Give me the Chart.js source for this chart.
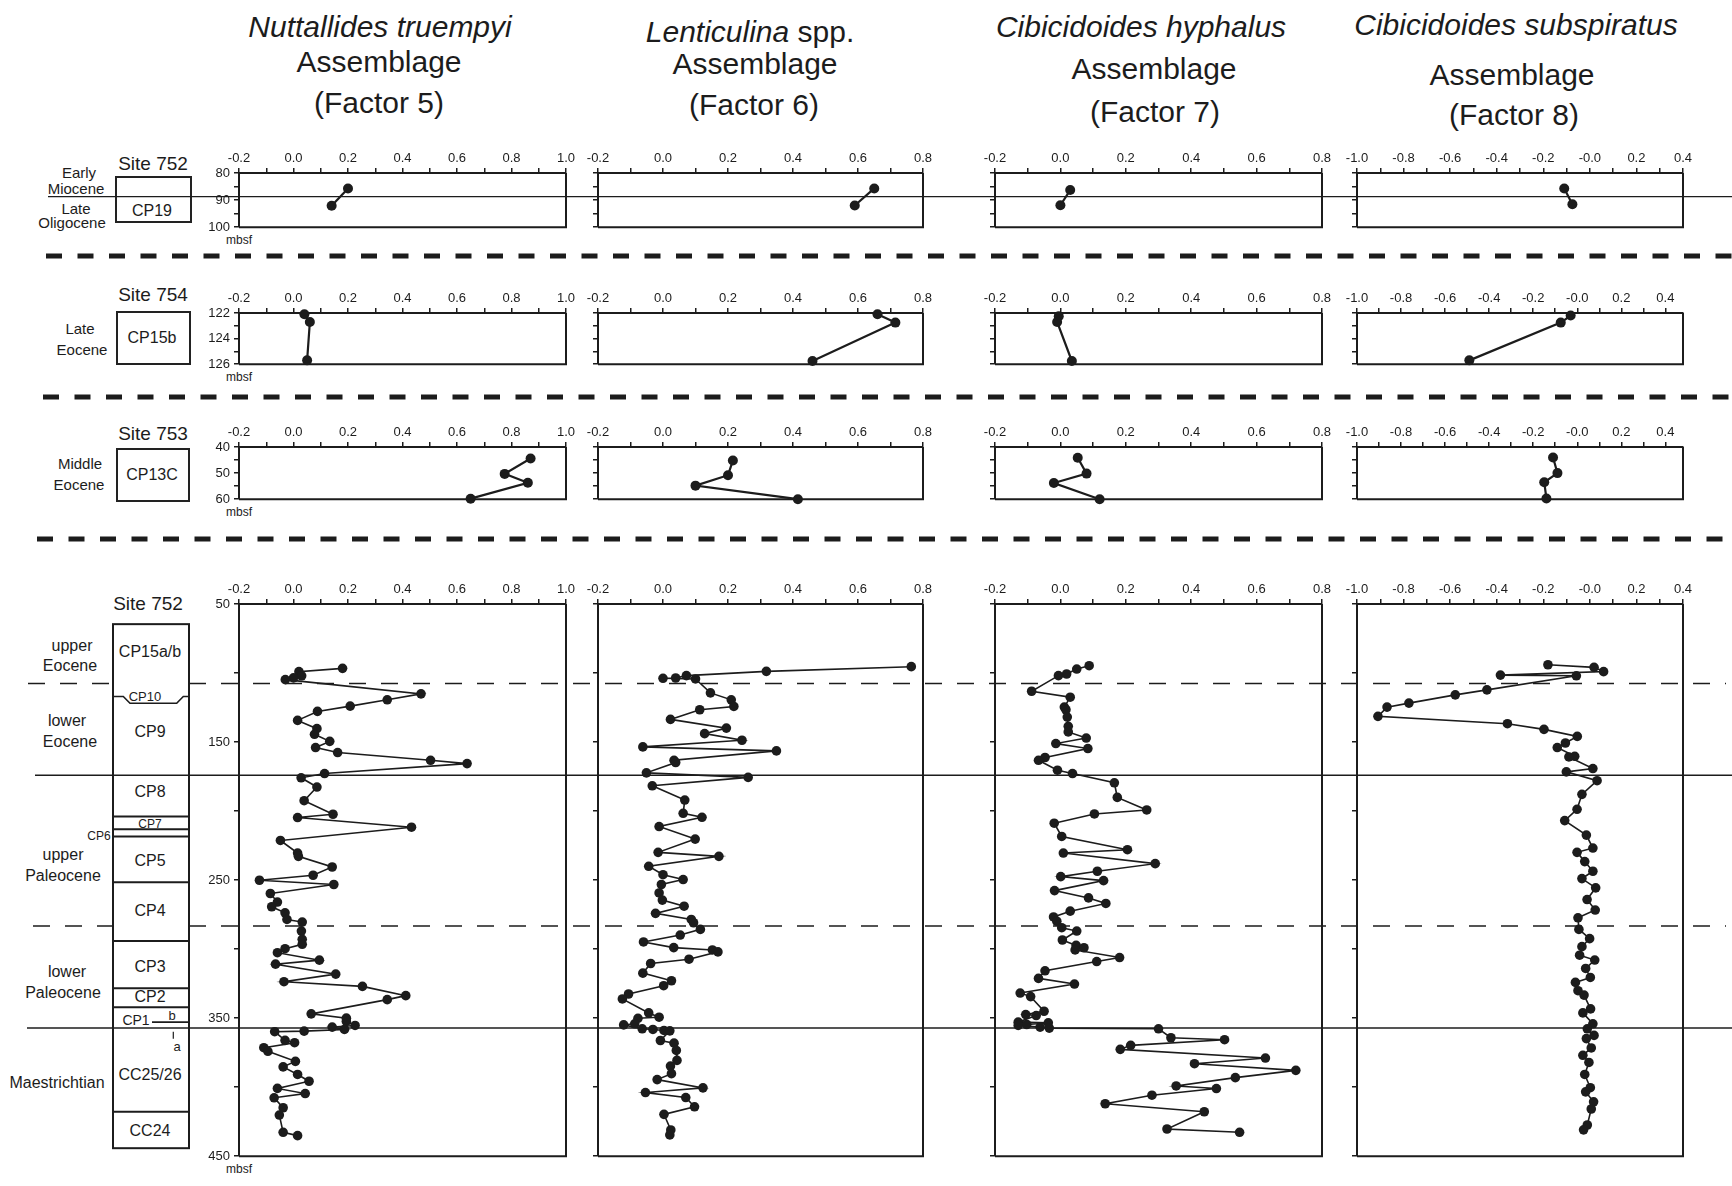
<!DOCTYPE html>
<html>
<head>
<meta charset="utf-8">
<script src="https://cdn.jsdelivr.net/npm/chart.js@4.4.1/dist/chart.umd.min.js"></script>
<style>
    body { margin: 0; background: #fff; }
    #page { position: relative; width: 1732px; height: 1186px; overflow: hidden; background: #fff;
            font-family: "Liberation Sans", Arial, sans-serif; color: #1c1c1c; }
    .t { position: absolute; transform: translate(-50%, -50%); white-space: nowrap; line-height: 1; z-index: 1; }
    .box { position: absolute; border: 2px solid #222; box-sizing: border-box; z-index: 1; }
    canvas.panel { position: absolute; z-index: 3; }
    #overlay { position: absolute; left: 0; top: 0; z-index: 2; }
</style>
</head>
<body>
<div id="page"></div>
<script>
// Site 752, upper interval (CP19) - depth in mbsf, factor loadings
const site752TopDepthF5 = [85.7, 92.1]
const site752TopF5 = [0.20, 0.14]
const site752TopDepthF6 = [85.7, 92.0]
const site752TopF6 = [0.65, 0.59]
const site752TopDepthF7 = [86.3, 91.9]
const site752TopF7 = [0.03, 0.00]
const site752TopDepthF8 = [85.7, 91.5]
const site752TopF8 = [-0.11, -0.075]

// Site 754 (CP15b)
const site754DepthF5 = [122.1, 122.7, 125.7]
const site754F5 = [0.04, 0.06, 0.05]
const site754DepthF6 = [122.1, 122.75, 125.75]
const site754F6 = [0.66, 0.715, 0.46]
const site754DepthF7 = [122.25, 122.7, 125.75]
const site754F7 = [-0.005, -0.01, 0.035]
const site754DepthF8 = [122.2, 122.75, 125.7]
const site754F8 = [-0.03, -0.075, -0.49]

// Site 753 (CP13C)
const site753DepthF5 = [44.4, 50.3, 53.7, 59.8]
const site753F5 = [0.87, 0.775, 0.86, 0.65]
const site753DepthF6 = [45.2, 50.8, 54.8, 60]
const site753F6 = [0.215, 0.2, 0.1, 0.415]
const site753DepthF7 = [44.1, 50.2, 53.8, 60]
const site753F7 = [0.053, 0.08, -0.02, 0.12]
const site753DepthF8 = [44, 50, 53.5, 59.7]
const site753F8 = [-0.11, -0.09, -0.15, -0.14]

// Site 752, Maestrichtian to upper Eocene
const site752DepthF5 = [96.6, 99.0, 102.0, 103.5, 104.8, 115.1, 119.4, 124.0, 127.8, 134.3, 140.3, 144.4, 149.5, 154.0, 157.6,
    163.2, 165.6, 172.8, 175.9, 182.6, 192.5, 202.3, 204.7, 211.7, 221.3, 230.4, 232.8, 240.5, 246.5, 250.1, 253.2, 259.7,
    265.9, 269.3, 273.7, 278.5, 280.4, 286.9, 292.9, 296.5, 299.7, 302.6, 308.0, 310.9, 318.1, 323.6, 327.0, 333.7, 336.6,
    346.9, 350.0, 352.4, 355.3, 356.5, 358.2, 359.4, 359.8, 366.1, 367.8, 371.4, 374.0, 381.3, 385.3, 390.8, 395.7, 400.9,
    404.6, 407.7, 414.9, 420.2, 432.7, 435.1]
const site752F5 = [0.18, 0.02, 0.03, 0.0, -0.03, 0.468, 0.344, 0.208, 0.088, 0.015, 0.086, 0.077, 0.133, 0.081, 0.162,
    0.503, 0.637, 0.114, 0.028, 0.086, 0.039, 0.145, 0.015, 0.433, -0.048, 0.015, 0.018, 0.142, 0.072, -0.125, 0.148, -0.085,
    -0.059, -0.08, -0.031, -0.024, 0.032, 0.029, 0.032, 0.032, -0.031, -0.059, 0.095, -0.066, 0.155, -0.035, 0.253, 0.412, 0.344,
    0.065, 0.194, 0.194, 0.226, 0.142, 0.187, 0.039, -0.069, -0.031, 0.004, -0.109, -0.094, 0.007, -0.038, 0.015, 0.057, -0.059,
    0.043, -0.071, -0.038, -0.052, -0.038, 0.015]
const site752DepthF6 = [95.4, 98.8, 101.9, 103.6, 103.8, 104.3, 114.4, 119.4, 124.2, 126.6, 133.6, 139.9, 143.9, 148.7, 153.5,
    156.4, 163.2, 164.8, 172.3, 175.6, 181.7, 192.0, 201.6, 204.5, 211.2, 220.3, 229.9, 232.8, 240.0, 246.1, 249.6, 253.2,
    259.3, 264.5, 268.9, 274.1, 278.5, 280.9, 285.7, 289.8, 294.8, 298.9, 300.6, 302.0, 307.3, 310.4, 317.4, 322.9, 326.5,
    332.5, 336.1, 346.2, 349.3, 350.1, 354.1, 354.9, 357.7, 358.2, 358.9, 359.2, 366.2, 368.1, 373.4, 380.6, 384.7, 390.2,
    394.5, 400.5, 403.9, 407.5, 414.2, 419.7, 431.0, 434.6]
const site752F6 = [0.764, 0.318, 0.072, 0.039, 0.0, 0.10, 0.146, 0.21, 0.218, 0.113, 0.023, 0.195, 0.128, 0.243, -0.062,
    0.349, 0.034, 0.039, -0.051, 0.262, -0.033, 0.067, 0.062, 0.12, -0.012, 0.099, -0.015, 0.172, -0.044, 0.0, 0.062, -0.005,
    -0.012, -0.002, 0.065, -0.023, 0.087, 0.094, 0.115, 0.053, -0.06, 0.033, 0.152, 0.169, 0.08, -0.038, -0.062, 0.026, 0.002,
    -0.106, -0.125, -0.044, -0.012, -0.077, -0.087, -0.121, -0.064, -0.031, 0.003, 0.021, -0.008, 0.034, 0.041, 0.043, 0.023, 0.026,
    -0.018, 0.123, -0.054, 0.07, 0.097, 0.003, 0.024, 0.021]
const site752DepthF7 = [94.7, 97.1, 100.7, 101.9, 113.2, 117.5, 124.7, 126.6, 131.9, 138.6, 142.7, 147.1, 151.1, 154.7, 161.2,
    163.2, 170.4, 172.8, 179.5, 190.1, 199.2, 202.1, 208.8, 218.4, 228.0, 230.4, 238.1, 243.6, 247.5, 250.4, 257.6, 262.9,
    266.9, 272.5, 276.7, 279.8, 284.5, 286.9, 293.4, 297.3, 299.0, 300.6, 306.1, 309.0, 315.7, 321.2, 325.3, 331.8, 334.4,
    345.0, 347.4, 348.1, 352.9, 353.4, 354.6, 355.3, 356.5, 357.2, 357.7, 364.2, 365.6, 369.7, 372.6, 378.9, 383.0, 387.8,
    393.1, 399.1, 401.0, 405.8, 412.0, 417.8, 430.3, 432.7]
const site752F7 = [0.088, 0.05, 0.019, -0.006, -0.088, 0.03, 0.012, 0.017, 0.021, 0.024, 0.024, 0.079, -0.014, 0.084, -0.047,
    -0.067, -0.009, 0.037, 0.165, 0.174, 0.264, 0.104, -0.019, 0.004, 0.205, 0.009, 0.29, 0.113, 0.001, 0.132, -0.018, 0.086,
    0.139, 0.03, -0.021, -0.011, 0.004, 0.05, 0.006, 0.048, 0.072, 0.045, 0.181, 0.111, -0.047, -0.067, 0.043, -0.123, -0.091,
    -0.05, -0.106, -0.074, -0.129, -0.037, -0.103, -0.129, -0.062, -0.034, 0.30, 0.338, 0.502, 0.215, 0.183, 0.627, 0.41, 0.72,
    0.535, 0.354, 0.477, 0.28, 0.137, 0.44, 0.326, 0.548]
const site752DepthF8 = [94.0, 95.9, 99.0, 101.5, 102.0, 112.2, 115.8, 121.8, 124.7, 131.4, 136.7, 140.8, 145.9, 150.7, 154.0,
    160.3, 160.8, 169.2, 171.6, 178.0, 187.9, 198.7, 206.9, 217.4, 226.8, 229.9, 236.6, 243.6, 248.9, 255.6, 264.1, 271.7,
    277.3, 285.7, 292.4, 298.2, 304.4, 307.9, 314.0, 320.5, 324.1, 330.1, 333.3, 343.3, 346.2, 354.1, 357.7, 362.5, 364.8,
    371.6, 376.9, 382.1, 390.8, 400.4, 403.4, 410.6, 415.8, 427.4, 430.9]
const site752F8 = [-0.18, 0.018, 0.059, -0.384, -0.058, -0.442, -0.578, -0.777, -0.871, -0.91, -0.354, -0.197, -0.054, -0.105, -0.14,
    -0.065, -0.09, 0.013, -0.101, 0.031, -0.034, -0.055, -0.108, -0.015, 0.013, -0.055, -0.022, 0.013, -0.034, 0.025, -0.012, 0.023,
    -0.051, -0.047, -0.001, -0.034, -0.044, 0.021, -0.018, 0.002, -0.062, -0.051, -0.025, 0.003, -0.03, 0.013, -0.011, 0.018, -0.015,
    0.006, -0.03, -0.004, -0.022, 0.002, -0.018, 0.016, 0.006, -0.011, -0.027]

// stratigraphic boundaries (mbsf)
const site752TopBoundary = 88.7
const site752Boundaries = [107.5, 174, 283.3, 357.2]
const site752BoundaryDashed = [true, false, true, false]
const zoneTop752 = 64.6
const zoneBottom752 = 444.2
const zoneLines752 = [204.0, 213.1, 218.4, 251.6, 294.1, 328.4, 342.1, 417.8]
const zoneNames752 = ['CP15a/b', 'CP9', 'CP8', 'CP5', 'CP4', 'CP3', 'CP2', 'CC25/26', 'CC24']
const zoneLabelDepths752 = [85.1, 142.8, 186.0, 236.5, 272.5, 312.6, 334.9, 391.4, 431.8]
const epochNames752 = ['upper', 'Eocene', 'lower', 'Eocene', 'upper', 'Paleocene', 'lower', 'Paleocene', 'Maestrichtian']
const epochDepths752 = [80.3, 94.7, 134.8, 150, 231.6, 246.8, 316.9, 331.8, 396.7]

const INK = '#1c1c1c'
const AX_W = 50
const AX_H = 32
const PAD_R = 16
const PAD_B = 10

const columns = [
    { left: 239, right: 566, min: -0.2, max: 1.0, negZero: false },
    { left: 598, right: 923, min: -0.2, max: 0.8, negZero: false },
    { left: 995, right: 1322, min: -0.2, max: 0.8, negZero: false },
    { left: 1357, right: 1683, min: -1.0, max: 0.4, negZero: true },
]
const rows = [
    { top: 173, bottom: 229, min: 80, max: 100, step: 5, labelEvery: 10 },
    { top: 313, bottom: 366, min: 122, max: 126, step: 1, labelEvery: 2 },
    { top: 447, bottom: 501, min: 40, max: 60, step: 5, labelEvery: 10 },
    { top: 604, bottom: 1158, min: 50, max: 450, step: 50, labelEvery: 100 },
]
const panelSeries = [
    [[site752TopF5, site752TopDepthF5], [site752TopF6, site752TopDepthF6], [site752TopF7, site752TopDepthF7], [site752TopF8, site752TopDepthF8]],
    [[site754F5, site754DepthF5], [site754F6, site754DepthF6], [site754F7, site754DepthF7], [site754F8, site754DepthF8]],
    [[site753F5, site753DepthF5], [site753F6, site753DepthF6], [site753F7, site753DepthF7], [site753F8, site753DepthF8]],
    [[site752F5, site752DepthF5], [site752F6, site752DepthF6], [site752F7, site752DepthF7], [site752F8, site752DepthF8]],
]

const page = document.getElementById('page')

function addText(html, x, y, size, style) {
    const el = document.createElement('div')
    el.className = 't'
    el.style.left = x + 'px'
    el.style.top = y + 'px'
    el.style.fontSize = size + 'px'
    if (style) Object.assign(el.style, style)
    el.innerHTML = html
    page.appendChild(el)
    return el
}
function addBox(x, y, w, h) {
    const el = document.createElement('div')
    el.className = 'box'
    Object.assign(el.style, { left: x + 'px', top: y + 'px', width: w + 'px', height: h + 'px' })
    page.appendChild(el)
}

// titles
addText('<i>Nuttallides truempyi</i>', 380, 27, 30)
addText('Assemblage', 379, 62, 30)
addText('(Factor 5)', 379, 103, 30)
addText('<i>Lenticulina</i> spp.', 750, 32, 30)
addText('Assemblage', 755, 64, 30)
addText('(Factor 6)', 754, 105, 30)
addText('<i>Cibicidoides hyphalus</i>', 1141, 27, 30)
addText('Assemblage', 1154, 69, 30)
addText('(Factor 7)', 1155, 112, 30)
addText('<i>Cibicidoides subspiratus</i>', 1516, 25, 30)
addText('Assemblage', 1512, 75, 30)
addText('(Factor 8)', 1514, 115, 30)

const framePlugin = {
    id: 'frame',
    beforeDatasetsDraw(chart) {
        const { ctx, chartArea: a } = chart
        ctx.save()
        ctx.strokeStyle = INK
        ctx.lineWidth = 2
        ctx.beginPath()
        ctx.moveTo(a.right, a.top)
        ctx.lineTo(a.right, a.bottom)
        ctx.lineTo(a.left, a.bottom)
        ctx.stroke()
        ctx.restore()
    }
}

const tickFont = { family: '"Liberation Sans", Arial, sans-serif', size: 13 }

const charts = rows.map((row, r) => columns.map((col, c) => {
    const w = col.right - col.left + AX_W + PAD_R
    const h = row.bottom - row.top + AX_H + PAD_B
    const cv = document.createElement('canvas')
    cv.className = 'panel'
    cv.width = w
    cv.height = h
    cv.style.left = (col.left - AX_W) + 'px'
    cv.style.top = (row.top - AX_H) + 'px'
    cv.style.width = w + 'px'
    cv.style.height = h + 'px'
    page.appendChild(cv)
    const [values, depths] = panelSeries[r][c]
    const xMax = (c === 3 && (r === 1 || r === 2)) ? 0.48 : col.max
    const big = r === 3
    return new Chart(cv, {
        type: 'scatter',
        data: {
            datasets: [{
                data: values.map((v, i) => ({ x: v, y: depths[i] })),
                showLine: true,
                borderColor: INK,
                borderWidth: big ? 1.6 : 2.2,
                pointRadius: big ? 4.8 : 5,
                pointBackgroundColor: INK,
                pointBorderWidth: 0,
                clip: false
            }]
        },
        options: {
            responsive: false,
            animation: false,
            devicePixelRatio: 1,
            events: [],
            layout: { padding: { left: 0, top: 0, right: PAD_R, bottom: PAD_B } },
            plugins: { legend: { display: false }, tooltip: { enabled: false } },
            scales: {
                x: {
                    type: 'linear',
                    position: 'top',
                    min: col.min,
                    max: xMax,
                    afterFit: s => { s.height = AX_H },
                    grid: { drawOnChartArea: false, tickLength: 5, color: INK, lineWidth: 1.5 },
                    border: { color: INK, width: 2 },
                    ticks: {
                        stepSize: 0.1,
                        autoSkip: false,
                        maxRotation: 0,
                        includeBounds: false,
                        padding: 2,
                        color: INK,
                        font: tickFont,
                        callback: v => {
                            const k = Math.round(v * 10)
                            if (k % 2 !== 0) return ''
                            if (k === 0) return col.negZero ? '-0.0' : '0.0'
                            return (k / 10).toFixed(1)
                        }
                    }
                },
                y: {
                    type: 'linear',
                    position: 'left',
                    reverse: true,
                    min: row.min,
                    max: row.max,
                    afterFit: s => { s.width = AX_W },
                    grid: { drawOnChartArea: false, tickLength: 5, color: INK, lineWidth: 1.5 },
                    border: { color: INK, width: 2 },
                    ticks: {
                        stepSize: row.step,
                        autoSkip: false,
                        padding: 4,
                        color: INK,
                        font: tickFont,
                        callback: v => (c === 0 && (v - row.min) % row.labelEvery === 0) ? String(v) : ''
                    }
                }
            }
        },
        plugins: [framePlugin]
    })
}))

// mbsf labels under the depth axes
rows.forEach(row => addText('mbsf', 239, row.bottom + 11, 12))

// left column: sites, zones and epochs for the short sections
addText('Site 752', 153, 163, 19)
addBox(115, 176, 77, 47)
addText('CP19', 152, 211, 16)
addText('Early', 79, 172, 15)
addText('Miocene', 76, 188, 15)
addText('Late', 76, 208, 15)
addText('Oligocene', 72, 222, 15)

addText('Site 754', 153, 294, 19)
addBox(116, 311, 75, 54)
addText('CP15b', 152, 338, 16)
addText('Late', 80, 328, 15)
addText('Eocene', 82, 349, 15)

addText('Site 753', 153, 433, 19)
addBox(116, 448, 74, 54)
addText('CP13C', 152, 475, 16)
addText('Middle', 80, 463, 15)
addText('Eocene', 79, 484, 15)

addText('Site 752', 148, 603, 19)

// overlay with boundary lines and the Site 752 zone column
const ov = document.createElement('canvas')
ov.id = 'overlay'
ov.width = 1732
ov.height = 1186
page.appendChild(ov)
const g = ov.getContext('2d')
g.strokeStyle = INK

function depthToPage(chart, d) {
    return parseFloat(chart.canvas.style.top) + chart.scales.y.getPixelForValue(d)
}
function line(x0, y0, x1, y1, width, dash) {
    g.save()
    g.lineWidth = width
    g.setLineDash(dash || [])
    g.beginPath()
    g.moveTo(x0, y0)
    g.lineTo(x1, y1)
    g.stroke()
    g.restore()
}

// thick dashed separators between sites
;[[256, 46], [397, 43], [539, 37]].forEach(([y, x0]) => line(x0, y, 1732, y, 5, [16, 15.5]))

// Early Miocene / Late Oligocene boundary at Site 752
const yTop = depthToPage(charts[0][0], site752TopBoundary)
line(48, yTop, 1732, yTop, 1.4)

// Site 752 zone column
const big = charts[3][0]
const zy = d => depthToPage(big, d)
const boxL = 113, boxR = 189
g.save()
g.lineWidth = 2
g.strokeRect(boxL, zy(zoneTop752), boxR - boxL, zy(zoneBottom752) - zy(zoneTop752))
g.restore()
zoneLines752.forEach(d => line(boxL, zy(d), boxR, zy(d), 2))
// CP10 notch
g.save()
g.lineWidth = 1.6
g.beginPath()
g.moveTo(boxL, zy(117.0))
g.lineTo(123.3, zy(117.0))
g.lineTo(130, zy(121.9))
g.lineTo(176.7, zy(121.9))
g.lineTo(183.3, zy(117.0))
g.lineTo(boxR, zy(117.0))
g.stroke()
g.restore()
// CP1 a/b
line(152, zy(352.9), boxR, zy(352.9), 1.6)
line(173.3, zy(359.9), 173.3, zy(364.9), 1.2)

// stage boundaries across all panels
const boundaryStart = [28, 35, 33, 27]
site752Boundaries.forEach((d, i) => {
    const y = zy(d)
    if (site752BoundaryDashed[i]) {
        line(boundaryStart[i], y, boxL, y, 1.5, [17, 15])
        line(boxR, y, 1726, y, 1.5, [17, 15])
    } else {
        line(boundaryStart[i], y, 1732, y, 1.5)
    }
})

// zone and epoch labels
zoneNames752.forEach((n, i) => addText(n, 150, zy(zoneLabelDepths752[i]), 16))
addText('CP10', 145, zy(116.3), 13)
addText('CP7', 150, zy(209.5), 12)
addText('CP6', 99, zy(218.4), 12)
addText('CP1', 136, zy(351.3), 14)
addText('b', 172, zy(347.7), 13)
addText('a', 177, zy(370.2), 13)
const epochX752 = [72, 70, 67, 70, 63, 63, 67, 63, 57]
epochNames752.forEach((n, i) => addText(n, epochX752[i], zy(epochDepths752[i]), 16))
</script>
</body>
</html>
